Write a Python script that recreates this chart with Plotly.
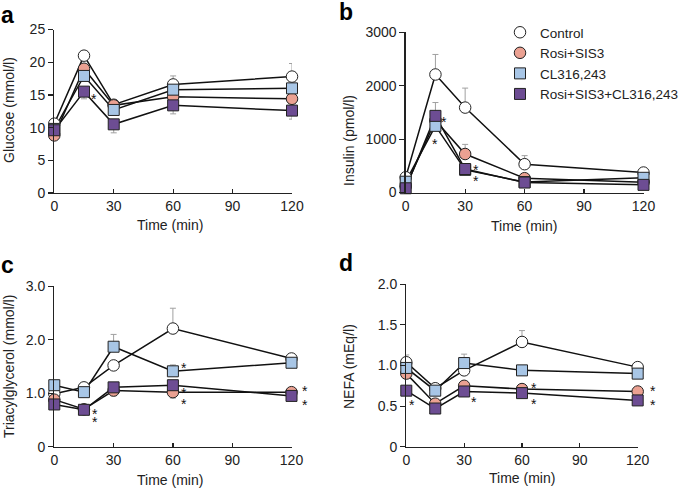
import plotly.graph_objects as go

# ---------------- data ----------------
time_min = [0, 15, 30, 60, 120]
groups = ["Control", "Rosi+SIS3", "CL316,243", "Rosi+SIS3+CL316,243"]

glucose_control = [10.6, 21.0, 13.5, 16.6, 17.8]
glucose_rosi = [8.8, 19.0, 13.4, 14.7, 14.4]
glucose_cl = [9.8, 17.9, 12.7, 15.8, 16.0]
glucose_combo = [9.6, 15.5, 10.5, 13.4, 12.6]

insulin_control = [285, 2210, 1590, 530, 374]
insulin_rosi = [110, 1350, 721, 268, 190]
insulin_cl = [202, 1248, 424, 195, 275]
insulin_combo = [79, 1435, 440, 187, 143]

tag_control = [0.99, 1.11, 1.52, 2.21, 1.65]
tag_rosi = [0.88, 0.70, 1.05, 1.02, 1.02]
tag_cl = [1.15, 1.02, 1.87, 1.41, 1.57]
tag_combo = [0.79, 0.69, 1.11, 1.15, 0.95]

nefa_control = [1.04, 0.72, 0.94, 1.29, 0.98]
nefa_rosi = [0.90, 0.53, 0.75, 0.71, 0.68]
nefa_cl = [0.97, 0.69, 1.03, 0.94, 0.90]
nefa_combo = [0.69, 0.47, 0.68, 0.66, 0.57]

# error bars (SEM), upward / downward; None = not shown
err_up = {
    "a": [[None, None, None, 1.3, 2.0], None, None, None],
    "b": [[None, 375, 365, 160, None], [None, None, 180, None, None], None,
          [None, 250, None, None, None]],
    "c": [[None, None, None, 0.38, 0.05], None, [None, None, 0.23, 0.12, None], None],
    "d": [[0.09, None, None, 0.14, None], None, [None, None, 0.11, None, None], None],
}
err_down = {
    "a": [None, None, None, [None, 1.1, 1.3, 1.3, 1.3]],
    "b": [None, None, None, None],
    "c": [None, [None, None, 0.1, 0.11, None], None, None],
    "d": [None, None, None, None],
}

# significance marks: (panel, group index, time index)
sig_marks = [
    ("a", 3, 1),
    ("b", 3, 1), ("b", 2, 1), ("b", 3, 2), ("b", 2, 2),
    ("c", 3, 1), ("c", 1, 1), ("c", 2, 3), ("c", 3, 3), ("c", 1, 3), ("c", 1, 4), ("c", 3, 4),
    ("d", 3, 0), ("d", 3, 2), ("d", 1, 3), ("d", 3, 3), ("d", 1, 4), ("d", 3, 4),
]

panel_data = {
    "a": [glucose_control, glucose_rosi, glucose_cl, glucose_combo],
    "b": [insulin_control, insulin_rosi, insulin_cl, insulin_combo],
    "c": [tag_control, tag_rosi, tag_cl, tag_combo],
    "d": [nefa_control, nefa_rosi, nefa_cl, nefa_combo],
}
y_titles = {"a": "Glucose (mmol/l)", "b": "Insulin (pmol/l)",
            "c": "Triacylglycerol (mmol/l)", "d": "NEFA (mEq/l)"}
y_ticks = {
    "a": ([0, 5, 10, 15, 20, 25], ["0", "5", "10", "15", "20", "25"]),
    "b": ([0, 1000, 2000, 3000], ["0", "1000", "2000", "3000"]),
    "c": ([0, 1, 2, 3], ["0", "1.0", "2.0", "3.0"]),
    "d": ([0, 0.5, 1.0, 1.5, 2.0], ["0", "0.5", "1.0", "1.5", "2.0"]),
}
x_ticks = [0, 30, 60, 90, 120]

# ---------------- style / layout ----------------
W, H = 685, 489
FONT = "Arial, 'Liberation Sans', Helvetica, sans-serif"
TXT = "#222"
colors = ["#ffffff", "#eba192", "#a8c6e6", "#6d4d93"]
symbols = ["circle", "circle", "square", "square"]
msize = [11.5, 11.5, 11, 11]

# plot-area pixel boxes: left, right, top, bottom
boxes = {
    "a": (54.3, 292.0, 29.5, 193.0),
    "b": (405.7, 643.5, 32.3, 192.5),
    "c": (54.3, 291.5, 286.3, 446.7),
    "d": (406.3, 637.7, 284.3, 446.7),
}
# significance-mark pixel offsets (dx right, dy down)
sig_offsets = [
    (10, 4.5),
    (9, 3.5), (0, 15), (11, -2), (11, 8.5),
    (11, 1), (11, 10), (11, -6), (11, 5), (11, 9), (13.5, -4), (13.5, 6),
    (5.5, 11), (10, 8), (12, -4), (12, 7.5), (15, -3), (15, 1.3),
]
title_pos = {"a": (9, 110), "b": (349, 141), "c": (9, 367), "d": (349, 367)}
xtitle_pos = {"a": (170, 225), "b": (524, 226), "c": (170, 480), "d": (522, 478)}
label_pos = {"a": (7, 15), "b": (346, 12), "c": (7, 265), "d": (346, 263)}

fig = go.Figure()
layout = dict(
    template="none",
    width=W, height=H, margin=dict(l=0, r=0, t=0, b=0, autoexpand=False),
    paper_bgcolor="white", plot_bgcolor="white",
    font=dict(family=FONT, size=14, color=TXT),
    showlegend=True,
    legend=dict(x=500 / W, y=1 - 17 / H, xanchor="left", yanchor="top",
                font=dict(size=13.5, color=TXT), bgcolor="rgba(0,0,0,0)",
                tracegroupgap=0, borderwidth=0),
)
annotations = []
axis_of = {}

for k, p in enumerate(["a", "b", "c", "d"]):
    sfx = "" if k == 0 else str(k + 1)
    xa, ya = "x" + sfx, "y" + sfx
    axis_of[p] = (xa, ya)
    l, r, t, b = boxes[p]
    yv = y_ticks[p][0]
    layout["xaxis" + sfx] = dict(
        domain=[l / W, r / W], range=[0, 120], anchor=ya, automargin=False,
        tickvals=x_ticks, ticks="inside", ticklen=4, tickwidth=1.2, tickcolor=TXT,
        showline=True, linecolor=TXT, linewidth=1.3, showgrid=False, zeroline=False,
        tickfont=dict(size=14, color=TXT),
    )
    layout["yaxis" + sfx] = dict(
        domain=[1 - b / H, 1 - t / H], range=[0, yv[-1]], anchor=xa, automargin=False,
        tickvals=y_ticks[p][0], ticktext=y_ticks[p][1],
        ticks="outside", ticklen=5, tickwidth=1.2, tickcolor=TXT,
        showline=True, linecolor=TXT, linewidth=1.3, showgrid=False, zeroline=False,
        tickfont=dict(size=14, color=TXT),
    )
    # connecting lines first
    for g in range(4):
        fig.add_trace(go.Scatter(
            x=time_min, y=panel_data[p][g], xaxis=xa, yaxis=ya,
            mode="lines", showlegend=False, hoverinfo="skip",
            line=dict(color="#111", width=1.5), cliponaxis=False,
        ))
    # markers + error bars
    for g in range(4):
        up = err_up[p][g]
        dn = err_down[p][g]
        ey = None
        if up is not None or dn is not None:
            ey = dict(type="data", symmetric=False,
                      array=up if up is not None else [None] * 5,
                      arrayminus=dn if dn is not None else [None] * 5,
                      color="#a0a0a0", thickness=1, width=3)
        fig.add_trace(go.Scatter(
            x=time_min, y=panel_data[p][g], xaxis=xa, yaxis=ya,
            mode="markers", name=groups[g], legendgroup=groups[g],
            showlegend=(k == 1),
            marker=dict(symbol=symbols[g], size=msize[g], color=colors[g],
                        line=dict(color="#222", width=1)),
            error_y=ey, cliponaxis=False,
        ))
    tx, ty = title_pos[p]
    annotations.append(dict(text=y_titles[p], x=tx / W, y=1 - ty / H, xref="paper", yref="paper",
                            showarrow=False, textangle=-90, font=dict(size=14, color=TXT),
                            xanchor="center", yanchor="middle"))
    tx, ty = xtitle_pos[p]
    annotations.append(dict(text="Time (min)", x=tx / W, y=1 - ty / H, xref="paper", yref="paper",
                            showarrow=False, font=dict(size=14, color=TXT),
                            xanchor="center", yanchor="middle"))
    lx, ly = label_pos[p]
    annotations.append(dict(text="<b>%s</b>" % p, x=lx / W, y=1 - ly / H, xref="paper", yref="paper",
                            showarrow=False, font=dict(size=23, color="#000"),
                            xanchor="center", yanchor="middle"))

for (p, g, ti), (dx, dy) in zip(sig_marks, sig_offsets):
    xa, ya = axis_of[p]
    annotations.append(dict(text="*", x=time_min[ti], y=panel_data[p][g][ti], xref=xa, yref=ya,
                            showarrow=False, xshift=dx, yshift=-(dy + 3),
                            font=dict(size=14, color="#111")))

layout["annotations"] = annotations
fig.update_layout(**layout)
fig.write_html("out.html",
               config={"displayModeBar": False, "staticPlot": True},
               post_script="document.body.style.margin='0';document.body.style.padding='0';"
                           "document.body.style.overflow='hidden';")
